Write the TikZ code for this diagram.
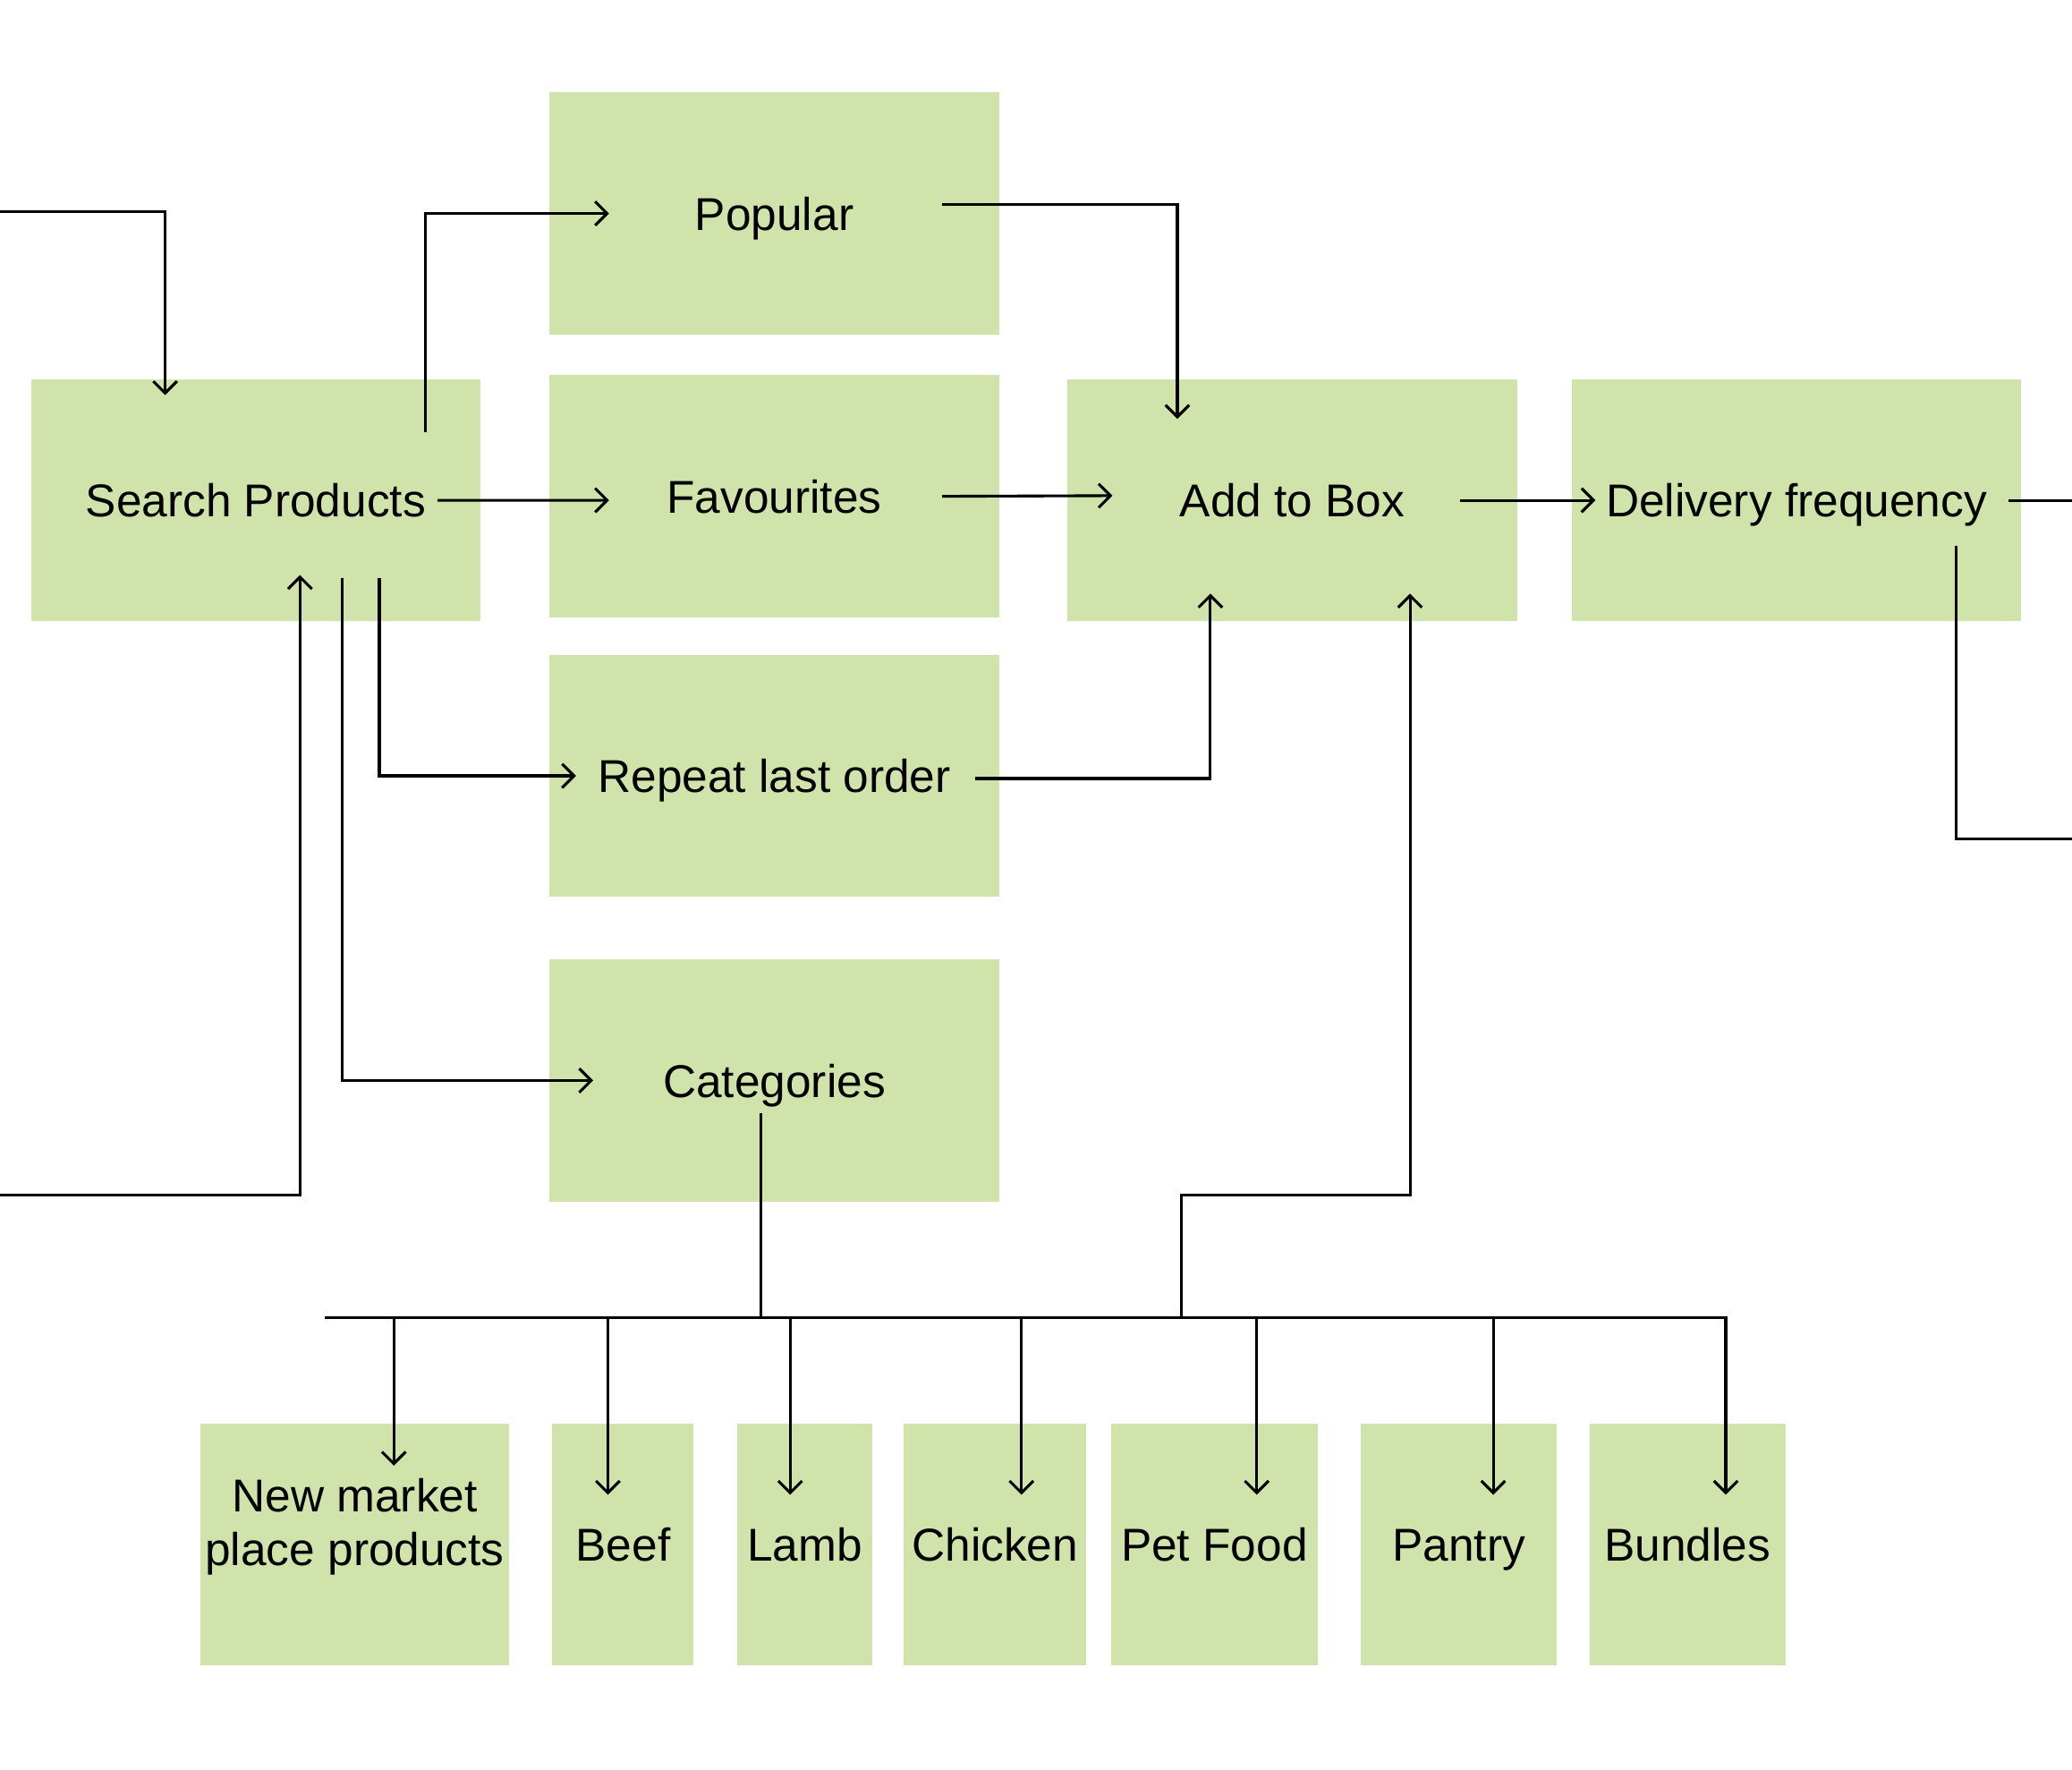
\documentclass[tikz,border=0pt]{standalone}
\usepackage{fontspec}
\setmainfont{Liberation Sans}
\usepackage{tikz}
\usetikzlibrary{arrows.meta}
\definecolor{boxgreen}{RGB}{208,227,170}
\tikzstyle{node_box} = [rectangle, fill=boxgreen, inner sep=0pt, minimum height=1.83cm, text height=7.2pt, text depth=0pt]
\tikzstyle{node_wide} = [node_box, minimum width=3.4cm]
\tikzstyle{edge_arrow} = [-{Straight Barb[length=0.9mm,width=1.8mm]}]
\begin{document}
\begin{tikzpicture}[x=0.01cm, y=-0.01cm, line width=0.6pt, font=\fontsize{9.9}{11.6}\selectfont]
		\useasboundingbox (0,0) rectangle (1568,1339);
		\node (SP) at (193.5,378.5) [node_wide] {Search Products};
		\node (POP) at (586,161.5) [node_wide] {Popular};
		\node (FAV) at (586,375.5) [node_wide] {Favourites};
		\node (REP) at (586,587) [node_wide] {Repeat last order};
		\node (CAT) at (586,817.5) [node_wide] {Categories};
		\node (ADD) at (978,378.5) [node_wide] {Add to Box};
		\node (DEL) at (1359.5,378.5) [node_wide] {Delivery frequency};
		\node (NMP) at (268.5,1168.5) [node_box, minimum width=2.33cm, label={[align=center,yshift=0.135cm]center:New market\\place products}] {};
		\node (BEEF) at (471.5,1168.5) [node_box, minimum width=1.07cm] {Beef};
		\node (LAMB) at (609,1168.5) [node_box, minimum width=1.02cm] {Lamb};
		\node (CHK) at (753,1168.5) [node_box, minimum width=1.38cm] {Chicken};
		\node (PET) at (919,1168.5) [node_box, minimum width=1.56cm] {Pet Food};
		\node (PAN) at (1104,1168.5) [node_box, minimum width=1.48cm] {Pantry};
		\node (BUN) at (1277,1168.5) [node_box, minimum width=1.48cm] {Bundles};
		
		\coordinate (IN_TOP) at (0,160);
		\coordinate (IN_LOW) at (0,904);
		\coordinate (OUT_MID) at (1568,378.5);
		\coordinate (OUT_LOW) at (1568,635);
		\coordinate (BUS_L) at (246,997);
		\coordinate (BUS_R) at (1306,997);
		\coordinate (BUS_M) at (894,997);
		
		\draw[edge_arrow] (IN_TOP) -| ([xshift=-0.685cm,yshift=-0.13cm]SP.north);
		\draw[edge_arrow] (IN_LOW) -| ([xshift=0.335cm,yshift=0.36cm]SP.south);
		\draw[edge_arrow] ([xshift=1.285cm,yshift=0.515cm]SP.center) |- ([xshift=0.46cm]POP.west);
		\draw[edge_arrow] ([xshift=1.375cm]SP.center) -- ([xshift=0.46cm,yshift=-0.03cm]FAV.west);
		\draw[edge_arrow] ([xshift=0.935cm,yshift=-0.585cm]SP.center) |- ([xshift=0.21cm]REP.west);
		\draw[edge_arrow] ([xshift=0.655cm,yshift=-0.585cm]SP.center) |- ([xshift=0.34cm]CAT.west);
		\draw[edge_arrow] ([xshift=1.27cm,yshift=0.065cm]POP.center) -| ([xshift=-0.87cm,yshift=-0.31cm]ADD.north);
		\draw[edge_arrow] ([xshift=1.27cm]FAV.center) -- ([xshift=0.35cm,yshift=0.035cm]ADD.west);
		\draw[edge_arrow] ([xshift=1.52cm,yshift=-0.02cm]REP.center) -| ([xshift=-0.62cm,yshift=0.22cm]ADD.south);
		\draw[edge_arrow] ([xshift=1.27cm]ADD.center) -- ([xshift=0.19cm]DEL.west);
		\draw ([xshift=1.605cm]DEL.center) -- (OUT_MID);
		\draw ([xshift=1.205cm,yshift=-0.345cm]DEL.center) |- (OUT_LOW);
		
		\draw ([xshift=-0.1cm,yshift=-0.245cm]CAT.center) -- ++(0,155);
		\draw (BUS_L) -- (BUS_R);
		\draw[edge_arrow] (BUS_M) -- ++(0,-93) -| ([xshift=0.89cm,yshift=0.22cm]ADD.south);
		\foreach \n/\dx/\dy in {NMP/0.295/-0.33, BEEF/-0.115/-0.55, LAMB/-0.11/-0.55, CHK/0.2/-0.55, PET/0.32/-0.55, PAN/0.26/-0.55, BUN/0.29/-0.55}
			\draw[edge_arrow] ([xshift=\dx cm,yshift=0.8cm]\n.north) -- ([xshift=\dx cm,yshift=\dy cm]\n.north);
		\end{tikzpicture}
\end{document}
